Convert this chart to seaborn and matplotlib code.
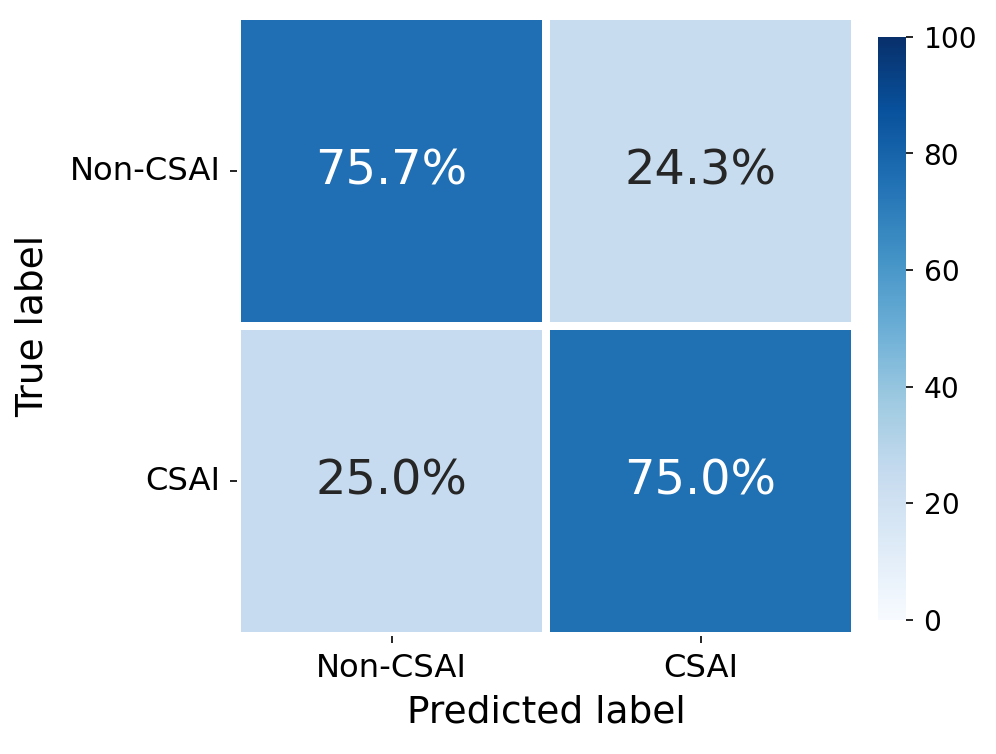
import numpy as np
import pandas as pd
import matplotlib
matplotlib.use("Agg")
import matplotlib.pyplot as plt
import seaborn as sns

class_names = ["Non-CSAI", "CSAI"]
# row-normalised confusion matrix, in percent
row_non_csai = [75.7, 24.3]
row_csai = [25.0, 75.0]

cm = pd.DataFrame([row_non_csai, row_csai], index=class_names, columns=class_names)
annot = cm.map(lambda v: f"{v:.1f}%")

fig = plt.figure(figsize=(6.64, 5.027), dpi=150)
ax = fig.add_axes([0.238, 0.1565, 0.6205, 0.822])
cax = fig.add_axes([0.8815, 0.178, 0.028, 0.773])
sns.heatmap(cm, annot=annot, fmt="", cmap="Blues", vmin=0, vmax=100,
            linewidths=3.8, linecolor="white", ax=ax, cbar_ax=cax,
            annot_kws={"size": 23})
ax.set_xlabel("Predicted label", fontsize=18, labelpad=5)
ax.set_ylabel("True label", fontsize=18, labelpad=9)
ax.tick_params(axis="both", labelsize=15.5, pad=4.5)
plt.setp(ax.get_yticklabels(), rotation=0)
cax.tick_params(labelsize=13.5, pad=5)
plt.savefig("out.png", dpi=150)
